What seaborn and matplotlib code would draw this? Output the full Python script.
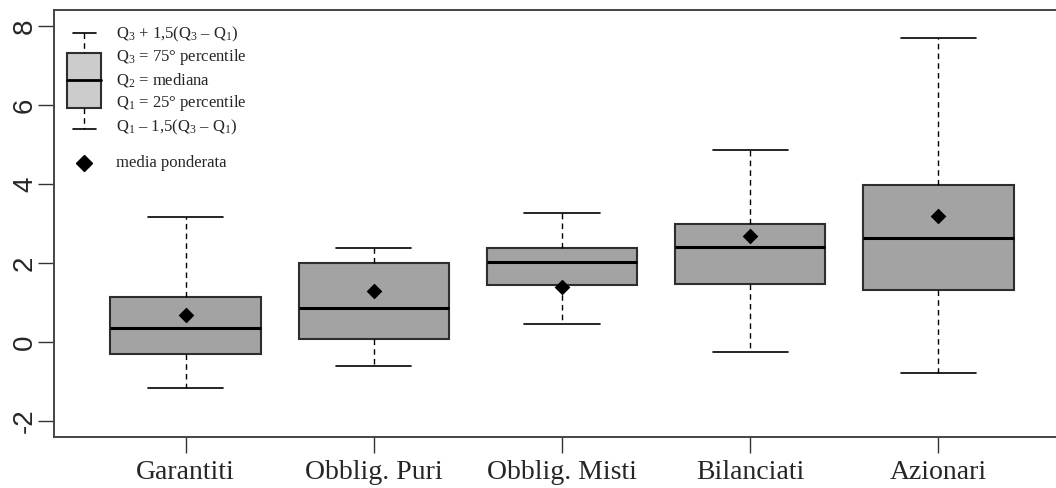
import numpy as np
import pandas as pd
import matplotlib
matplotlib.use("Agg")
import matplotlib.pyplot as plt
from matplotlib.patches import Rectangle
from matplotlib.lines import Line2D
import seaborn as sns

# Summary statistics (five-number summary per fund type)
categories = ["Garantiti", "Obblig. Puri", "Obblig. Misti", "Bilanciati", "Azionari"]
whisker_low = [-1.16, -0.61, 0.46, -0.24, -0.77]
q1 = [-0.29, 0.08, 1.45, 1.48, 1.32]
median = [0.35, 0.86, 2.02, 2.40, 2.63]
q3 = [1.14, 2.00, 2.37, 2.99, 3.97]
whisker_high = [3.17, 2.38, 3.27, 4.86, 7.69]
weighted_mean = [0.68, 1.29, 1.40, 2.69, 3.19]
y_ticks = [-2, 0, 2, 4, 6, 8]

legend_labels = [
    r"Q$_3$ + 1,5(Q$_3$ – Q$_1$)",
    r"Q$_3$ = 75° percentile",
    r"Q$_2$ = mediana",
    r"Q$_1$ = 25° percentile",
    r"Q$_1$ – 1,5(Q$_3$ – Q$_1$)",
    "media ponderata",
]

# long table: each box is built from its five summary values
rows = []
for i, cat in enumerate(categories):
    for v in (whisker_low[i], q1[i], median[i], q3[i], whisker_high[i]):
        rows.append({"fondo": cat, "rendimento": v})
df = pd.DataFrame(rows)

sns.set_theme(style="ticks")
plt.rcParams["font.family"] = ["Liberation Serif", "DejaVu Serif"]
plt.rcParams["mathtext.fontset"] = "custom"
plt.rcParams["mathtext.rm"] = "Liberation Serif"
plt.rcParams["mathtext.it"] = "Liberation Serif:italic"
plt.rcParams["mathtext.bf"] = "Liberation Serif:bold"

W, H = 1056, 488
fig = plt.figure(figsize=(W / 100, H / 100), dpi=100)
ax = fig.add_axes([54 / W, 1 - 437 / H, (1070 - 54) / W, (437 - 10) / H])

edge = "#2e2e2e"
sns.boxplot(
    data=df, x="fondo", y="rendimento", order=categories,
    whis=(0, 100), width=0.8, color="#a3a3a3", saturation=1,
    linecolor=edge, linewidth=1.5, fliersize=0,
    medianprops=dict(color="black", linewidth=2.2),
    whiskerprops=dict(color="black", linewidth=1.0, linestyle=(0, (4, 3))),
    capprops=dict(color="black", linewidth=1.2),
    ax=ax,
)
sns.stripplot(
    x=categories, y=weighted_mean, order=categories, jitter=False,
    marker="D", color="black", size=8, linewidth=0, ax=ax, zorder=5,
)

ax.set_xlim(-0.7, 4.7)
ax.set_ylim(-2.4, 8.4)
ax.set_yticks(y_ticks)
ax.set_yticklabels([str(t) for t in y_ticks], family="Liberation Sans", fontsize=20,
                   rotation=90, va="center")
ax.set_xticks(range(len(categories)))
ax.set_xticklabels(categories, fontsize=20)
ax.set_xlabel("")
ax.set_ylabel("")
ax.tick_params(axis="both", length=11.5, width=1.0, color="#333333")
ax.tick_params(axis="y", pad=0)
ax.tick_params(axis="x", pad=5)
for side in ["left", "bottom", "top"]:
    ax.spines[side].set_visible(True)
    ax.spines[side].set_color("#444444")
    ax.spines[side].set_linewidth(1.4)
ax.spines["right"].set_visible(False)


# hand-drawn legend in the top-left corner (pixel positions)
def fx(px):
    return px / W


def fy(py):
    return 1 - py / H


T = fig.transFigure
fig.add_artist(Line2D([fx(73), fx(96)], [fy(33), fy(33)], color="black", lw=1.2, transform=T))
fig.add_artist(Line2D([fx(84), fx(84)], [fy(33), fy(53)], color="black", lw=1.0,
                      linestyle=(0, (4, 3)), transform=T))
fig.add_artist(Rectangle((fx(67), fy(108)), fx(101) - fx(67), fy(53) - fy(108),
                         facecolor="#cccccc", edgecolor=edge, lw=1.5, transform=T))
fig.add_artist(Line2D([fx(67), fx(101)], [fy(80), fy(80)], color="black", lw=2.0, transform=T))
fig.add_artist(Line2D([fx(84), fx(84)], [fy(108), fy(129)], color="black", lw=1.0,
                      linestyle=(0, (4, 3)), transform=T))
fig.add_artist(Line2D([fx(73), fx(96)], [fy(129), fy(129)], color="black", lw=1.2, transform=T))
fig.add_artist(Line2D([fx(84)], [fy(163)], marker="D", markersize=8, color="black",
                      linestyle="none", transform=T))

for label, py in zip(legend_labels, [34, 57, 80, 103, 127, 163]):
    fig.text(fx(116), fy(py), label, fontsize=12, va="center", ha="left")

fig.savefig("out.png", dpi=100)
